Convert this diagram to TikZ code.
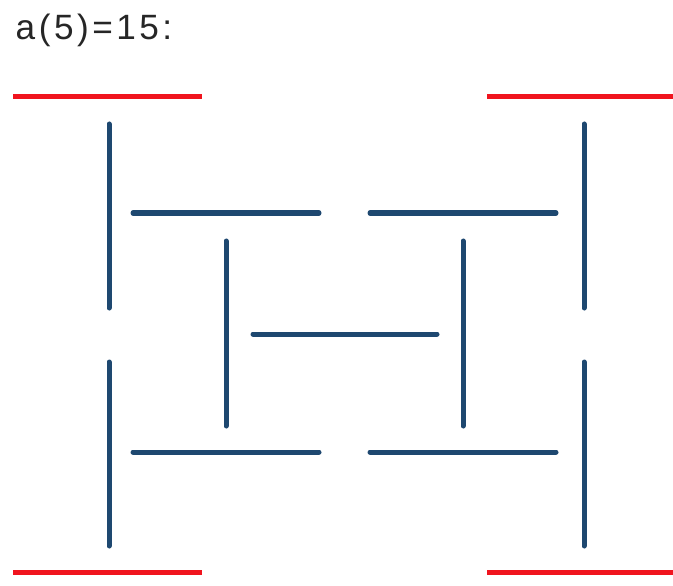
\documentclass[tikz,border=0pt]{standalone}
\usepackage{fontspec}
\setmainfont{Liberation Sans}
\newfontfamily\captionfont[LetterSpace=10]{Liberation Sans}
\definecolor{capred}{RGB}{240,20,30}
\definecolor{stickblue}{RGB}{30,72,112}
\begin{document}
\begin{tikzpicture}[x=0.01cm, y=-0.01cm,
    stick/.style={line width=0.05cm, line cap=round, color=stickblue},
    rim/.style={line width=0.05cm, color=capred},
    caption/.style={anchor=base west, inner sep=0pt, text=black!85,
      font=\captionfont\fontsize{10}{12}\selectfont}
  ]
    \useasboundingbox (0,0) rectangle (673,585);
    \node[caption] (title) at (15,40) {a(5)=15:};

    % red end lines
    \foreach \x/\y in {13/97, 487/97, 13/572, 487/572}
      \draw[rim] (\x,\y) -- ++(189,0);

    % outer verticals
    \foreach \x in {109, 584}
      \foreach \y in {124, 362}
        \draw[stick] (\x,\y) -- ++(0,184);

    % horizontals
    \foreach \y in {213, 452}
      \foreach \x in {133, 370}
        \draw[stick] (\x,\y) -- ++(186,0);

    % inner H
    \foreach \x in {226, 463}
      \draw[stick] (\x,241) -- (\x,426);
    \draw[stick] (253,334) -- (437,334);
  \end{tikzpicture}
\end{document}
